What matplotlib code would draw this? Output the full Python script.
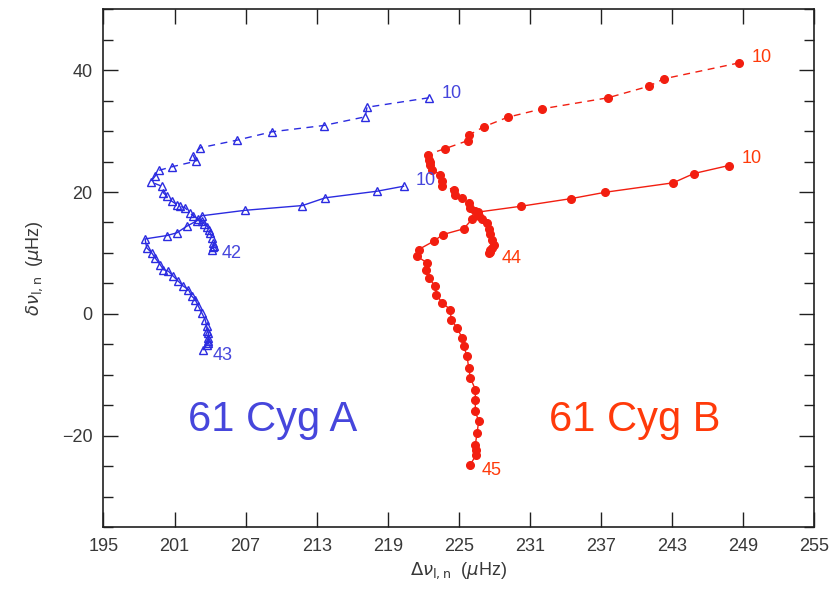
import matplotlib
matplotlib.use("Agg")
import matplotlib.pyplot as plt
from matplotlib.ticker import MultipleLocator

# 61 Cyg A: large separation (x) vs small separation (y), n = 10 ... 42 / 43
a_dash_x = [222.46, 217.25, 217.10, 213.58, 209.22, 206.26, 203.16, 202.59, 202.79,
            200.77, 199.72, 199.35, 198.99, 199.92, 200.06, 200.34, 200.77, 201.19,
            201.47, 201.89, 202.31, 202.59, 203.00, 203.30, 203.50, 203.70, 203.90,
            204.00, 204.15, 204.28, 204.30, 204.25, 204.15]
a_dash_y = [35.47, 33.92, 32.35, 30.92, 29.89, 28.51, 27.26, 25.99, 25.06,
            24.14, 23.58, 22.59, 21.67, 20.95, 19.87, 19.31, 18.49, 17.95,
            17.67, 17.41, 16.58, 16.03, 15.60, 15.20, 14.80, 14.30, 13.80,
            13.30, 12.50, 11.70, 11.20, 10.90, 10.56]

a_sol_x = [220.34, 218.09, 213.72, 211.80, 206.96, 203.30, 202.90, 202.03, 201.19,
           200.34, 198.51, 198.65, 199.07, 199.35, 199.78, 200.06, 200.48, 200.90,
           201.32, 201.75, 202.17, 202.46, 202.74, 203.01, 203.30, 203.58, 203.72,
           203.77, 203.86, 203.86, 203.86, 203.80, 203.75, 203.41]
a_sol_y = [20.95, 20.13, 19.05, 17.78, 17.00, 16.10, 15.30, 14.38, 13.30,
           12.85, 12.30, 10.84, 10.02, 9.20, 8.10, 7.27, 7.00, 6.17,
           5.35, 4.53, 3.99, 2.89, 2.35, 1.25, 0.16, -0.94, -2.04,
           -2.86, -3.12, -3.94, -4.50, -4.80, -5.04, -5.86]

# 61 Cyg B: n = 10 ... 44 / 45
b_dash_x = [248.66, 242.32, 241.05, 237.59, 232.04, 229.13, 227.10, 225.84, 225.79,
            223.87, 222.37, 222.46, 222.55, 222.60, 222.74, 223.44, 223.58, 223.58,
            224.57, 224.71, 225.27, 225.84, 225.98, 226.40, 226.68, 226.97, 227.39,
            227.53, 227.67, 227.81, 227.95, 227.81, 227.67, 227.60, 227.53]
b_dash_y = [41.20, 38.59, 37.37, 35.47, 33.66, 32.28, 30.70, 29.33, 28.46,
            27.14, 26.16, 25.34, 25.00, 24.49, 23.67, 22.87, 21.77, 20.95,
            20.40, 19.59, 19.04, 18.23, 17.40, 16.85, 16.03, 15.50, 14.94,
            13.85, 13.03, 12.20, 11.38, 10.84, 10.40, 10.20, 10.02]

b_sol_x = [247.80, 244.86, 243.10, 237.39, 234.52, 230.27, 226.60, 226.10, 225.42,
           223.67, 222.88, 221.61, 221.47, 222.32, 222.26, 222.46, 223.02, 223.11,
           223.59, 224.29, 224.35, 224.86, 225.28, 225.42, 225.70, 225.84, 225.98,
           226.40, 226.40, 226.40, 226.68, 226.55, 226.40, 226.45, 226.49, 225.98]
b_sol_y = [24.35, 23.04, 21.51, 19.97, 18.93, 17.67, 16.70, 15.50, 13.96,
           13.02, 11.92, 10.56, 9.46, 8.37, 7.27, 5.91, 4.53, 3.17,
           1.81, 0.71, -0.94, -2.30, -3.94, -5.32, -6.96, -8.87, -10.51,
           -12.43, -14.07, -15.99, -17.64, -19.54, -21.46, -22.30, -23.10, -24.75]

x_ticks = [195, 201, 207, 213, 219, 225, 231, 237, 243, 249, 255]
y_ticks = [-20, 0, 20, 40]

blue = "#2b2be0"
red = "#f21e10"
text_blue = "#4646dc"
text_red = "#ff3a0a"
tick_gray = "#383838"

plt.rcParams["font.family"] = ["Liberation Sans", "DejaVu Sans"]
plt.rcParams["mathtext.fontset"] = "dejavusans"

fig = plt.figure(figsize=(8.36, 5.90), dpi=100)
ax = fig.add_axes([0.1238, 0.1068, 0.8499, 0.8774])

dash = (0, (5, 4))
ax.plot(a_dash_x, a_dash_y, color=blue, lw=1.0, ls=dash, marker="^",
        ms=6.3, mfc="none", mec=blue, mew=1.0)
ax.plot(a_sol_x, a_sol_y, color=blue, lw=1.0, ls="-", marker="^",
        ms=6.3, mfc="none", mec=blue, mew=1.0)
ax.plot(b_dash_x, b_dash_y, color=red, lw=1.0, ls=dash, marker="o",
        ms=5.5, mfc=red, mec=red)
ax.plot(b_sol_x, b_sol_y, color=red, lw=1.0, ls="-", marker="o",
        ms=5.5, mfc=red, mec=red)

# radial order labels at the ends of each sequence
lab_kw = dict(fontsize=13, va="center", ha="left")
ax.annotate("10", (a_dash_x[0], a_dash_y[0]), xytext=(9, 3),
            textcoords="offset points", color=text_blue, **lab_kw)
ax.annotate("10", (a_sol_x[0], a_sol_y[0]), xytext=(9, 4),
            textcoords="offset points", color=text_blue, **lab_kw)
ax.annotate("42", (a_dash_x[-1], a_dash_y[-1]), xytext=(7, -3),
            textcoords="offset points", color=text_blue, **lab_kw)
ax.annotate("43", (a_sol_x[-1], a_sol_y[-1]), xytext=(7, -4),
            textcoords="offset points", color=text_blue, **lab_kw)
ax.annotate("10", (b_dash_x[0], b_dash_y[0]), xytext=(9, 4),
            textcoords="offset points", color=text_red, **lab_kw)
ax.annotate("10", (b_sol_x[0], b_sol_y[0]), xytext=(9, 5),
            textcoords="offset points", color=text_red, **lab_kw)
ax.annotate("44", (b_dash_x[-1], b_dash_y[-1]), xytext=(9, -4),
            textcoords="offset points", color=text_red, **lab_kw)
ax.annotate("45", (b_sol_x[-1], b_sol_y[-1]), xytext=(8, -4),
            textcoords="offset points", color=text_red, **lab_kw)

ax.text(202.1, -19.3, "61 Cyg A", color=text_blue, fontsize=30,
        ha="left", va="baseline")
ax.text(232.6, -19.3, "61 Cyg B", color=text_red, fontsize=30,
        ha="left", va="baseline")

ax.set_xlim(195, 255)
ax.set_ylim(-35, 50)
ax.set_xticks(x_ticks)
ax.set_yticks(y_ticks)
ax.yaxis.set_minor_locator(MultipleLocator(5))
ax.tick_params(axis="both", which="major", direction="in", length=11,
               width=1.0, top=True, right=True, labelsize=13,
               labelcolor=tick_gray, color="#202020", pad=8)
ax.tick_params(axis="y", which="minor", direction="in", length=7,
               width=1.0, right=True, left=True, color="#202020")
for s in ax.spines.values():
    s.set_linewidth(1.2)
    s.set_color("#202020")

ax.set_xlabel(r"$\Delta\nu_{\rm l,n}$  ($\mu$Hz)", fontsize=13,
              color=tick_gray, labelpad=4)
ax.set_ylabel(r"$\delta\nu_{\rm l,n}$  ($\mu$Hz)", fontsize=13,
              color=tick_gray, labelpad=12)

fig.savefig("out.png", dpi=100)
